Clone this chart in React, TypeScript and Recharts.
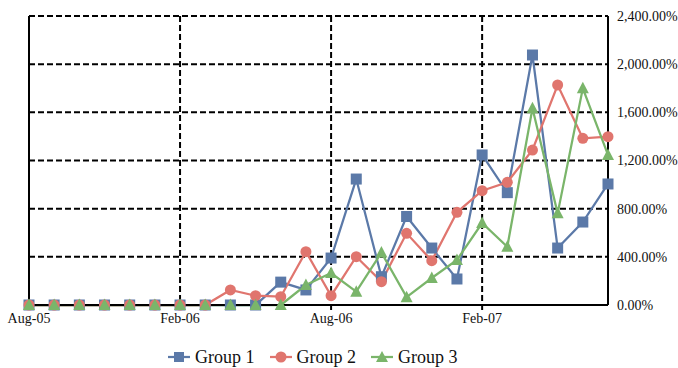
import React from 'react';
import { LineChart, Line, XAxis, YAxis, CartesianGrid, Legend, ReferenceLine } from 'recharts';

// months from Aug-05 to Jul-07
const months = [
  'Aug-05', 'Sep-05', 'Oct-05', 'Nov-05', 'Dec-05', 'Jan-06', 'Feb-06', 'Mar-06',
  'Apr-06', 'May-06', 'Jun-06', 'Jul-06', 'Aug-06', 'Sep-06', 'Oct-06', 'Nov-06',
  'Dec-06', 'Jan-07', 'Feb-07', 'Mar-07', 'Apr-07', 'May-07', 'Jun-07', 'Jul-07',
];

// values in percent
const group1 = [0, 0, 0, 0, 0, 0, 0, 0, 0, 0, 190, 125, 390, 1046, 235, 735, 473, 216, 1246, 933, 2076, 473, 689, 1005];
const group2 = [0, 0, 0, 0, 0, 0, 0, 0, 125, 77, 69, 443, 77, 401, 194, 595, 368, 770, 949, 1019, 1287, 1827, 1384, 1398];
const group3 = [0, 0, 0, 0, 0, 0, 0, 0, 0, 0, 0, 166, 265, 111, 435, 65, 224, 374, 681, 484, 1634, 761, 1800, 1246];

const xTicks = ['Aug-05', 'Feb-06', 'Aug-06', 'Feb-07'];
const yTicks = [0, 400, 800, 1200, 1600, 2000, 2400];

const BLUE = '#5b79a8';
const RED = '#e0756e';
const GREEN = '#7ab56a';
const FONT = '"Liberation Serif", "Times New Roman", serif';

const data = months.map((m, i) => ({
  month: m,
  g1: group1[i],
  g2: group2[i],
  g3: group3[i],
}));

const fmtPct = (v: number) =>
  v.toLocaleString('en-US', { minimumFractionDigits: 2, maximumFractionDigits: 2 }) + '%';

const Square = (props: any) => {
  const { cx, cy, key } = props;
  if (cx == null || cy == null) return null;
  return <rect key={key} x={cx - 5.5} y={cy - 5.5} width={11} height={11} fill={BLUE} />;
};

const Dot = (props: any) => {
  const { cx, cy, key } = props;
  if (cx == null || cy == null) return null;
  return <circle key={key} cx={cx} cy={cy} r={5.5} fill={RED} />;
};

const Tri = (props: any) => {
  const { cx, cy, key } = props;
  if (cx == null || cy == null) return null;
  return <path key={key} d={`M${cx},${cy - 6.5} L${cx + 6},${cy + 5} L${cx - 6},${cy + 5} Z`} fill={GREEN} />;
};

const legendItems = [
  { name: 'Group 1', color: BLUE, shape: 'square' },
  { name: 'Group 2', color: RED, shape: 'circle' },
  { name: 'Group 3', color: GREEN, shape: 'triangle' },
];

const CustomLegend = () => (
  <div
    style={{
      display: 'flex',
      justifyContent: 'flex-start',
      alignItems: 'center',
      height: 30,
      paddingTop: 8,
      paddingLeft: 138,
      boxSizing: 'border-box',
      fontFamily: FONT,
      fontSize: 18,
      color: '#111',
    }}
  >
    {legendItems.map((it) => (
      <div key={it.name} style={{ display: 'flex', alignItems: 'center', marginRight: 14 }}>
        <svg width={24} height={14} style={{ marginRight: 4 }}>
          <line x1={1} y1={7} x2={23} y2={7} stroke={it.color} strokeWidth={2.25} />
          {it.shape === 'square' && <rect x={7} y={2} width={10} height={10} fill={it.color} />}
          {it.shape === 'circle' && <circle cx={12} cy={7} r={5.5} fill={it.color} />}
          {it.shape === 'triangle' && <path d="M12,1 L18,12 L6,12 Z" fill={it.color} />}
        </svg>
        <span>{it.name}</span>
      </div>
    ))}
  </div>
);

const App: React.FC = () => {
  return (
    <div style={{ position: 'absolute', left: 0, top: 0, width: 678, height: 368, background: '#fff' }}>
      <LineChart width={678} height={368} data={data} margin={{ top: 16, right: 0, left: 29, bottom: 0 }}>
        <CartesianGrid stroke="#000" strokeWidth={2} strokeDasharray="6 3" />
        <XAxis
          dataKey="month"
          ticks={xTicks}
          interval={0}
          height={33}
          axisLine={{ stroke: '#000', strokeWidth: 2 }}
          tickLine={{ stroke: '#000', strokeWidth: 2 }}
          tickSize={5}
          tickMargin={3}
          tick={{ fontFamily: FONT, fontSize: 14, fill: '#111' }}
        />
        <YAxis
          orientation="right"
          domain={[0, 2400]}
          ticks={yTicks}
          width={70}
          axisLine={{ stroke: '#000', strokeWidth: 2 }}
          tickLine={false}
          tickSize={0}
          tickMargin={9}
          tickFormatter={fmtPct}
          tick={{ fontFamily: FONT, fontSize: 14, fill: '#111', textAnchor: 'start' }}
        />
        <ReferenceLine x="Aug-05" stroke="#000" strokeWidth={2} />
        <Legend verticalAlign="bottom" height={30} content={<CustomLegend />} />
        <Line dataKey="g1" name="Group 1" stroke={BLUE} strokeWidth={2.25} dot={Square} isAnimationActive={false} />
        <Line dataKey="g2" name="Group 2" stroke={RED} strokeWidth={2.25} dot={Dot} isAnimationActive={false} />
        <Line dataKey="g3" name="Group 3" stroke={GREEN} strokeWidth={2.25} dot={Tri} isAnimationActive={false} />
      </LineChart>
    </div>
  );
};

export default App;
